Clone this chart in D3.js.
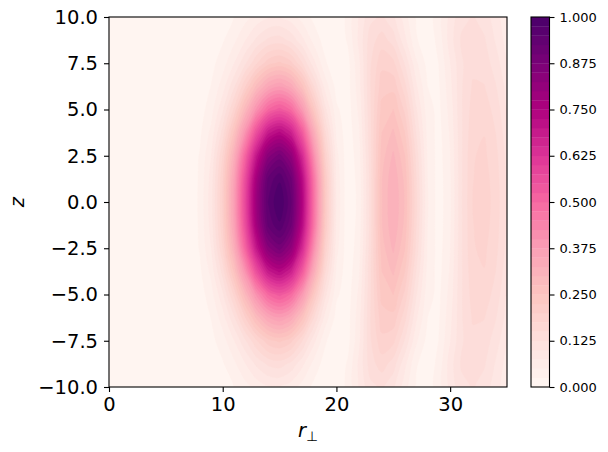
<!DOCTYPE html>
<html>
<head>
<meta charset="utf-8">
<script src="https://cdn.jsdelivr.net/npm/d3@7"></script>
<style>
  body { margin: 0; background: #ffffff; }
  svg { display: block; }
  text { font-family: "DejaVu Sans", sans-serif; fill: #000; }
</style>
</head>
<body>
<svg id="chart" width="608" height="452"></svg>
<script>
// ---------------- data ----------------
// radial coordinate r_perp (columns) and z (rows, top to bottom)
const rValues = [0,1,2,3,4,5,6,7,8,9,10,11,12,13,14,15,16,17,18,19,20,21,22,23,24,25,26,27,28,29,30,31,32,33,34,35];
const zValues = [10,8.75,7.5,6.25,5,3.75,2.5,1.25,0,-1.25,-2.5,-3.75,-5,-6.25,-7.5,-8.75,-10];

// normalised intensity, one array per z row
const rowZ10   = [0,0,0,0,0,0,0,0,0.002,0.005,0.013,0.025,0.041,0.059,0.072,0.075,0.062,0.039,0.018,0.004,0.006,0.031,0.077,0.118,0.129,0.105,0.06,0.021,0.011,0.037,0.083,0.117,0.127,0.114,0.085,0.056];
const rowZ875  = [0,0,0,0,0,0,0,0.001,0.003,0.009,0.022,0.044,0.074,0.106,0.13,0.136,0.118,0.081,0.041,0.013,0.006,0.028,0.081,0.139,0.162,0.138,0.082,0.028,0.008,0.033,0.087,0.129,0.141,0.128,0.097,0.063];
const rowZ75   = [0,0,0,0,0,0,0,0.001,0.006,0.017,0.038,0.074,0.122,0.173,0.215,0.23,0.208,0.151,0.083,0.029,0.003,0.015,0.069,0.147,0.193,0.182,0.123,0.055,0.016,0.025,0.073,0.121,0.143,0.139,0.112,0.078];
const rowZ625  = [0,0,0,0,0,0,0,0.002,0.009,0.026,0.062,0.12,0.2,0.283,0.348,0.372,0.34,0.257,0.152,0.064,0.015,0.014,0.064,0.149,0.214,0.216,0.16,0.08,0.025,0.021,0.066,0.122,0.153,0.151,0.127,0.09];
const rowZ5    = [0,0,0,0,0,0,0,0.003,0.013,0.039,0.095,0.18,0.295,0.41,0.5,0.535,0.495,0.385,0.235,0.108,0.029,0.012,0.056,0.147,0.234,0.25,0.194,0.104,0.034,0.018,0.059,0.122,0.161,0.164,0.14,0.1];
const rowZ375  = [0,0,0,0,0,0,0,0.005,0.02,0.057,0.135,0.255,0.405,0.565,0.69,0.73,0.675,0.53,0.335,0.155,0.044,0.009,0.047,0.145,0.25,0.28,0.226,0.125,0.041,0.015,0.053,0.121,0.167,0.174,0.15,0.109];
const rowZ25   = [0,0,0,0,0,0,0,0.006,0.027,0.075,0.175,0.32,0.51,0.7,0.84,0.885,0.82,0.65,0.415,0.195,0.058,0.007,0.039,0.141,0.263,0.305,0.252,0.143,0.047,0.013,0.048,0.121,0.173,0.18,0.158,0.116];
const rowZ125  = [0,0,0,0,0,0,0,0.006,0.029,0.086,0.195,0.36,0.565,0.78,0.93,0.97,0.905,0.72,0.47,0.225,0.066,0.006,0.034,0.137,0.273,0.32,0.268,0.153,0.05,0.012,0.045,0.121,0.174,0.185,0.163,0.119];
const rowZ0    = [0,0,0,0,0,0,0,0.005,0.03,0.09,0.2,0.37,0.58,0.8,0.95,1,0.93,0.74,0.48,0.23,0.07,0.005,0.032,0.137,0.273,0.325,0.273,0.158,0.053,0.011,0.044,0.121,0.176,0.187,0.165,0.121];
const rowZm125 = [0,0,0,0,0,0,0,0.006,0.029,0.086,0.195,0.36,0.565,0.78,0.93,0.97,0.905,0.72,0.47,0.225,0.066,0.006,0.034,0.137,0.273,0.32,0.268,0.153,0.05,0.012,0.045,0.121,0.174,0.185,0.163,0.119];
const rowZm25  = [0,0,0,0,0,0,0,0.006,0.027,0.075,0.175,0.32,0.51,0.7,0.84,0.885,0.82,0.65,0.415,0.195,0.058,0.007,0.039,0.141,0.263,0.305,0.252,0.143,0.047,0.013,0.048,0.121,0.173,0.18,0.158,0.116];
const rowZm375 = [0,0,0,0,0,0,0,0.005,0.02,0.057,0.135,0.255,0.405,0.565,0.69,0.73,0.675,0.53,0.335,0.155,0.044,0.009,0.047,0.145,0.25,0.28,0.226,0.125,0.041,0.015,0.053,0.121,0.167,0.174,0.15,0.109];
const rowZm5   = [0,0,0,0,0,0,0,0.003,0.013,0.039,0.095,0.18,0.295,0.41,0.5,0.535,0.495,0.385,0.235,0.108,0.029,0.012,0.056,0.147,0.234,0.25,0.194,0.104,0.034,0.018,0.059,0.122,0.161,0.164,0.14,0.1];
const rowZm625 = [0,0,0,0,0,0,0,0.002,0.009,0.026,0.062,0.12,0.2,0.283,0.348,0.372,0.34,0.257,0.152,0.064,0.015,0.014,0.064,0.149,0.214,0.216,0.16,0.08,0.025,0.021,0.066,0.122,0.153,0.151,0.127,0.09];
const rowZm75  = [0,0,0,0,0,0,0,0.001,0.006,0.017,0.038,0.074,0.122,0.173,0.215,0.23,0.208,0.151,0.083,0.029,0.003,0.015,0.069,0.147,0.193,0.182,0.123,0.055,0.016,0.025,0.073,0.121,0.143,0.139,0.112,0.078];
const rowZm875 = [0,0,0,0,0,0,0,0.001,0.003,0.009,0.022,0.044,0.074,0.106,0.13,0.136,0.118,0.081,0.041,0.013,0.006,0.028,0.081,0.139,0.162,0.138,0.082,0.028,0.008,0.033,0.087,0.129,0.141,0.128,0.097,0.063];
const rowZm10  = [0,0,0,0,0,0,0,0,0.002,0.005,0.013,0.025,0.041,0.059,0.072,0.075,0.062,0.039,0.018,0.004,0.006,0.031,0.077,0.118,0.129,0.105,0.06,0.021,0.011,0.037,0.083,0.117,0.127,0.114,0.085,0.056];

const intensityRows = [rowZ10,rowZ875,rowZ75,rowZ625,rowZ5,rowZ375,rowZ25,rowZ125,rowZ0,
                       rowZm125,rowZm25,rowZm375,rowZm5,rowZm625,rowZm75,rowZm875,rowZm10];

// contour levels (40 filled bands) and tick labels
const levels = [0,0.025,0.05,0.075,0.1,0.125,0.15,0.175,0.2,0.225,0.25,0.275,0.3,0.325,0.35,0.375,0.4,0.425,0.45,0.475,
                0.5,0.525,0.55,0.575,0.6,0.625,0.65,0.675,0.7,0.725,0.75,0.775,0.8,0.825,0.85,0.875,0.9,0.925,0.95,0.975,1];
const xTicks = [0,10,20,30];
const yTicks = [-10,-7.5,-5,-2.5,0,2.5,5,7.5,10];
const cbarTicks = [0,0.125,0.25,0.375,0.5,0.625,0.75,0.875,1];
const rdpuStops = ["#fff7f3","#fde0dd","#fcc5c0","#fa9fb5","#f768a1","#dd3497","#ae017e","#7a0177","#49006a"];

// ---------------- layout ----------------
const plot = {left: 109, right: 507, top: 17, bottom: 387};
const cbar = {left: 531, right: 549.5, top: 17, bottom: 387};

const svg = d3.select("#chart");
const cmap = d3.scaleLinear()
  .domain(rdpuStops.map((_, i) => i / (rdpuStops.length - 1)))
  .range(rdpuStops)
  .interpolate(d3.interpolateRgb);

const x = d3.scaleLinear().domain([0, 35]).range([plot.left, plot.right]);
const y = d3.scaleLinear().domain([-10, 10]).range([plot.bottom, plot.top]);

const nx = rValues.length, ny = zValues.length;
// grid index space of d3.contours: value i sits at i + 0.5
const gx = d3.scaleLinear().domain([0.5, nx - 0.5]).range([rValues[0], rValues[nx - 1]]);
const gy = d3.scaleLinear().domain([0.5, ny - 0.5]).range([zValues[0], zValues[ny - 1]]);

const values = intensityRows.flat();
const bandColor = k => cmap((levels[k] + levels[k + 1]) / 2);

const contours = d3.contours()
  .size([nx, ny])
  .thresholds(levels.slice(1, -1))(values);

svg.append("defs").append("clipPath").attr("id", "plotClip")
  .append("rect")
  .attr("x", plot.left).attr("y", plot.top)
  .attr("width", plot.right - plot.left).attr("height", plot.bottom - plot.top);

const gPlot = svg.append("g").attr("clip-path", "url(#plotClip)");
gPlot.append("rect")
  .attr("x", plot.left).attr("y", plot.top)
  .attr("width", plot.right - plot.left).attr("height", plot.bottom - plot.top)
  .attr("fill", bandColor(0));

const ringLine = d3.line()
  .x(p => x(gx(p[0])))
  .y(p => y(gy(p[1])))
  .curve(d3.curveCatmullRomClosed.alpha(0.5));

function contourPath(mp) {
  return mp.coordinates
    .map(poly => poly.map(ring => ringLine(ring.slice(0, -1))).join(""))
    .join("");
}

gPlot.selectAll("path.band")
  .data(contours)
  .join("path")
  .attr("class", "band")
  .attr("d", contourPath)
  .attr("fill-rule", "evenodd")
  .attr("fill", (d, i) => bandColor(i + 1))
  .attr("stroke", (d, i) => bandColor(i + 1))
  .attr("stroke-width", 0.4);

// frame
svg.append("rect")
  .attr("x", plot.left).attr("y", plot.top)
  .attr("width", plot.right - plot.left).attr("height", plot.bottom - plot.top)
  .attr("fill", "none").attr("stroke", "#000").attr("stroke-width", 1.1);

// axes
const xAxis = svg.append("g")
  .attr("transform", `translate(0,${plot.bottom})`)
  .call(d3.axisBottom(x).tickValues(xTicks).tickSize(5).tickPadding(5).tickFormat(d3.format("d")));
const yAxis = svg.append("g")
  .attr("transform", `translate(${plot.left},0)`)
  .call(d3.axisLeft(y).tickValues(yTicks).tickSize(5).tickPadding(6).tickFormat(d3.format(".1f")));
[xAxis, yAxis].forEach(a => {
  a.select(".domain").remove();
  a.selectAll(".tick line").attr("stroke", "#000").attr("stroke-width", 1.1);
  a.selectAll(".tick text").attr("font-size", "19.5px").attr("font-family", "DejaVu Sans, sans-serif").attr("fill", "#000");
});

// axis labels
svg.append("text")
  .attr("transform", "translate(24,202) rotate(-90)")
  .attr("text-anchor", "middle")
  .attr("font-size", "19.5px")
  .attr("font-style", "italic")
  .text("z");

const xl = svg.append("text")
  .attr("x", 308).attr("y", 437)
  .attr("text-anchor", "middle")
  .attr("font-size", "19.5px");
xl.append("tspan").attr("font-style", "italic").text("r");
xl.append("tspan").attr("font-size", "13.5px").attr("dy", "4").text("⊥");

// colorbar
const cbY = d3.scaleLinear().domain([levels[0], levels[levels.length - 1]]).range([cbar.bottom, cbar.top]);
svg.append("g").selectAll("rect")
  .data(d3.pairs(levels))
  .join("rect")
  .attr("x", cbar.left)
  .attr("width", cbar.right - cbar.left)
  .attr("y", d => cbY(d[1]))
  .attr("height", d => cbY(d[0]) - cbY(d[1]) + 0.3)
  .attr("fill", (d, i) => bandColor(i));
svg.append("rect")
  .attr("x", cbar.left).attr("y", cbar.top)
  .attr("width", cbar.right - cbar.left).attr("height", cbar.bottom - cbar.top)
  .attr("fill", "none").attr("stroke", "#000").attr("stroke-width", 1.1);
const cAxis = svg.append("g")
  .attr("transform", `translate(${cbar.right},0)`)
  .call(d3.axisRight(cbY).tickValues(cbarTicks).tickSize(5).tickPadding(5).tickFormat(d3.format(".3f")));
cAxis.select(".domain").remove();
cAxis.selectAll(".tick line").attr("stroke", "#000").attr("stroke-width", 1.1);
cAxis.selectAll(".tick text").attr("font-size", "13px").attr("font-family", "DejaVu Sans, sans-serif").attr("fill", "#000");
</script>
</body>
</html>
